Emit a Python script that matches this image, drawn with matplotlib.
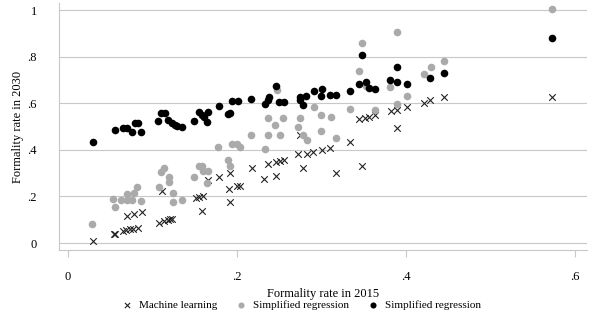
import matplotlib.pyplot as plt
import numpy as np

plt.rcParams['font.family'] = ['Liberation Serif', 'DejaVu Serif']

# Machine learning projections
ml_x = [.030, .054, .056, .065, .069, .073, .077, .083, .070, .078, .088, .111,
        .108, .114, .118, .121, .123, .151, .155, .160, .159, .166, .179, .192,
        .191, .192, .200, .204, .218, .232, .237, .246, .246, .251, .256, .272,
        .275, .278, .283, .290, .301, .310, .317, .333, .348, .344, .351, .356,
        .363, .382, .389, .389, .401, .421, .428, .445, .572]
ml_y = [.009, .039, .039, .052, .056, .060, .060, .064, .116, .124, .133, .223,
        .086, .094, .099, .103, .103, .193, .197, .202, .137, .270, .283, .300,
        .232, .176, .245, .245, .322, .275, .339, .288, .348, .352, .356, .382,
        .464, .322, .382, .391, .399, .408, .300, .433, .330, .532, .536, .541,
        .549, .567, .571, .494, .584, .601, .614, .627, .627]

# Simplified regression (grey)
sr1_x = [.028, .053, .056, .063, .070, .070, .076, .078, .082, .086, .108, .110,
         .114, .120, .120, .124, .124, .135, .149, .155, .159, .160, .166, .164,
         .178, .189, .192, .194, .200, .204, .217, .233, .237, .237, .245, .247,
         .251, .254, .272, .275, .278, .283, .291, .299, .299, .311, .317, .333,
         .344, .348, .353, .363, .381, .389, .389, .401, .421, .430, .445, .572]
sr1_y = [.082, .189, .155, .185, .210, .185, .185, .215, .240, .180, .240, .305,
         .322, .283, .262, .215, .176, .185, .283, .330, .330, .309, .309, .258,
         .412, .356, .330, .425, .425, .412, .464, .403, .536, .464, .506, .657,
         .464, .536, .498, .536, .464, .442, .584, .549, .481, .541, .451, .575,
         .738, .858, .674, .571, .670, .906, .597, .631, .725, .755, .781, 1.004]

# Simplified regression (black)
sr2_x = [.030, .056, .065, .070, .076, .079, .083, .086, .107, .110, .115, .118,
         .123, .127, .129, .135, .149, .155, .159, .161, .166, .164, .179, .189,
         .192, .194, .201, .217, .233, .237, .238, .246, .249, .256, .275, .275,
         .278, .282, .291, .301, .299, .310, .317, .333, .344, .348, .353, .356,
         .363, .381, .389, .389, .401, .428, .445, .572]
sr2_y = [.433, .485, .494, .494, .476, .515, .515, .476, .524, .558, .558, .528,
         .515, .506, .502, .498, .524, .562, .549, .541, .562, .519, .588, .554,
         .558, .609, .609, .618, .597, .614, .627, .674, .605, .605, .627, .614,
         .592, .631, .652, .661, .631, .635, .635, .652, .682, .807, .691, .665,
         .661, .700, .755, .691, .682, .708, .730, .880]

xticks = [0, .2, .4, .6]
xticklabels = ['0', '.2', '.4', '.6']
yticks = [0, .2, .4, .6, .8, 1]
yticklabels = ['0', '.2', '.4', '.6', '.8', '1']

fig = plt.figure(figsize=(5.97, 3.22), dpi=100)
ax = fig.add_axes([0.0988, 0.2236, 0.8845, 0.767])

grid_c = '#c8c8c8'
ax.scatter(ml_x, ml_y, marker='x', s=22, c='#222222', linewidths=0.8,
           label='Machine learning', zorder=3)
ax.scatter(sr1_x, sr1_y, marker='o', s=30, c='#aaaaaa', linewidths=0,
           label='Simplified regression', zorder=3)
ax.scatter(sr2_x, sr2_y, marker='o', s=30, c='black', linewidths=0,
           label='Simplified regression', zorder=4)

ax.set_xlim(-0.0107, 0.614)
ax.set_ylim(-0.03, 1.03)
ax.set_xticks(xticks)
ax.set_xticklabels(xticklabels)
ax.set_yticks(yticks)
ax.set_yticklabels(yticklabels)
ax.yaxis.grid(True, color=grid_c, linewidth=0.8)
ax.set_axisbelow(True)

for side in ['top', 'right']:
    ax.spines[side].set_visible(False)
for side in ['left', 'bottom']:
    ax.spines[side].set_color(grid_c)
    ax.spines[side].set_linewidth(0.8)

ax.tick_params(axis='x', length=5, width=0.8, color=grid_c, labelsize=9, pad=10)
ax.tick_params(axis='y', length=0, labelsize=9, pad=16)

ax.set_xlabel('Formality rate in 2015', fontsize=9, labelpad=4)
ax.set_ylabel('Formality rate in 2030', fontsize=9, labelpad=2)

fig.legend(loc='lower center', bbox_to_anchor=(0.5, 0.005), ncol=3, frameon=False,
           fontsize=8, handletextpad=0.1, columnspacing=1.1, markerscale=0.8)

plt.savefig('out.png', dpi=100)
